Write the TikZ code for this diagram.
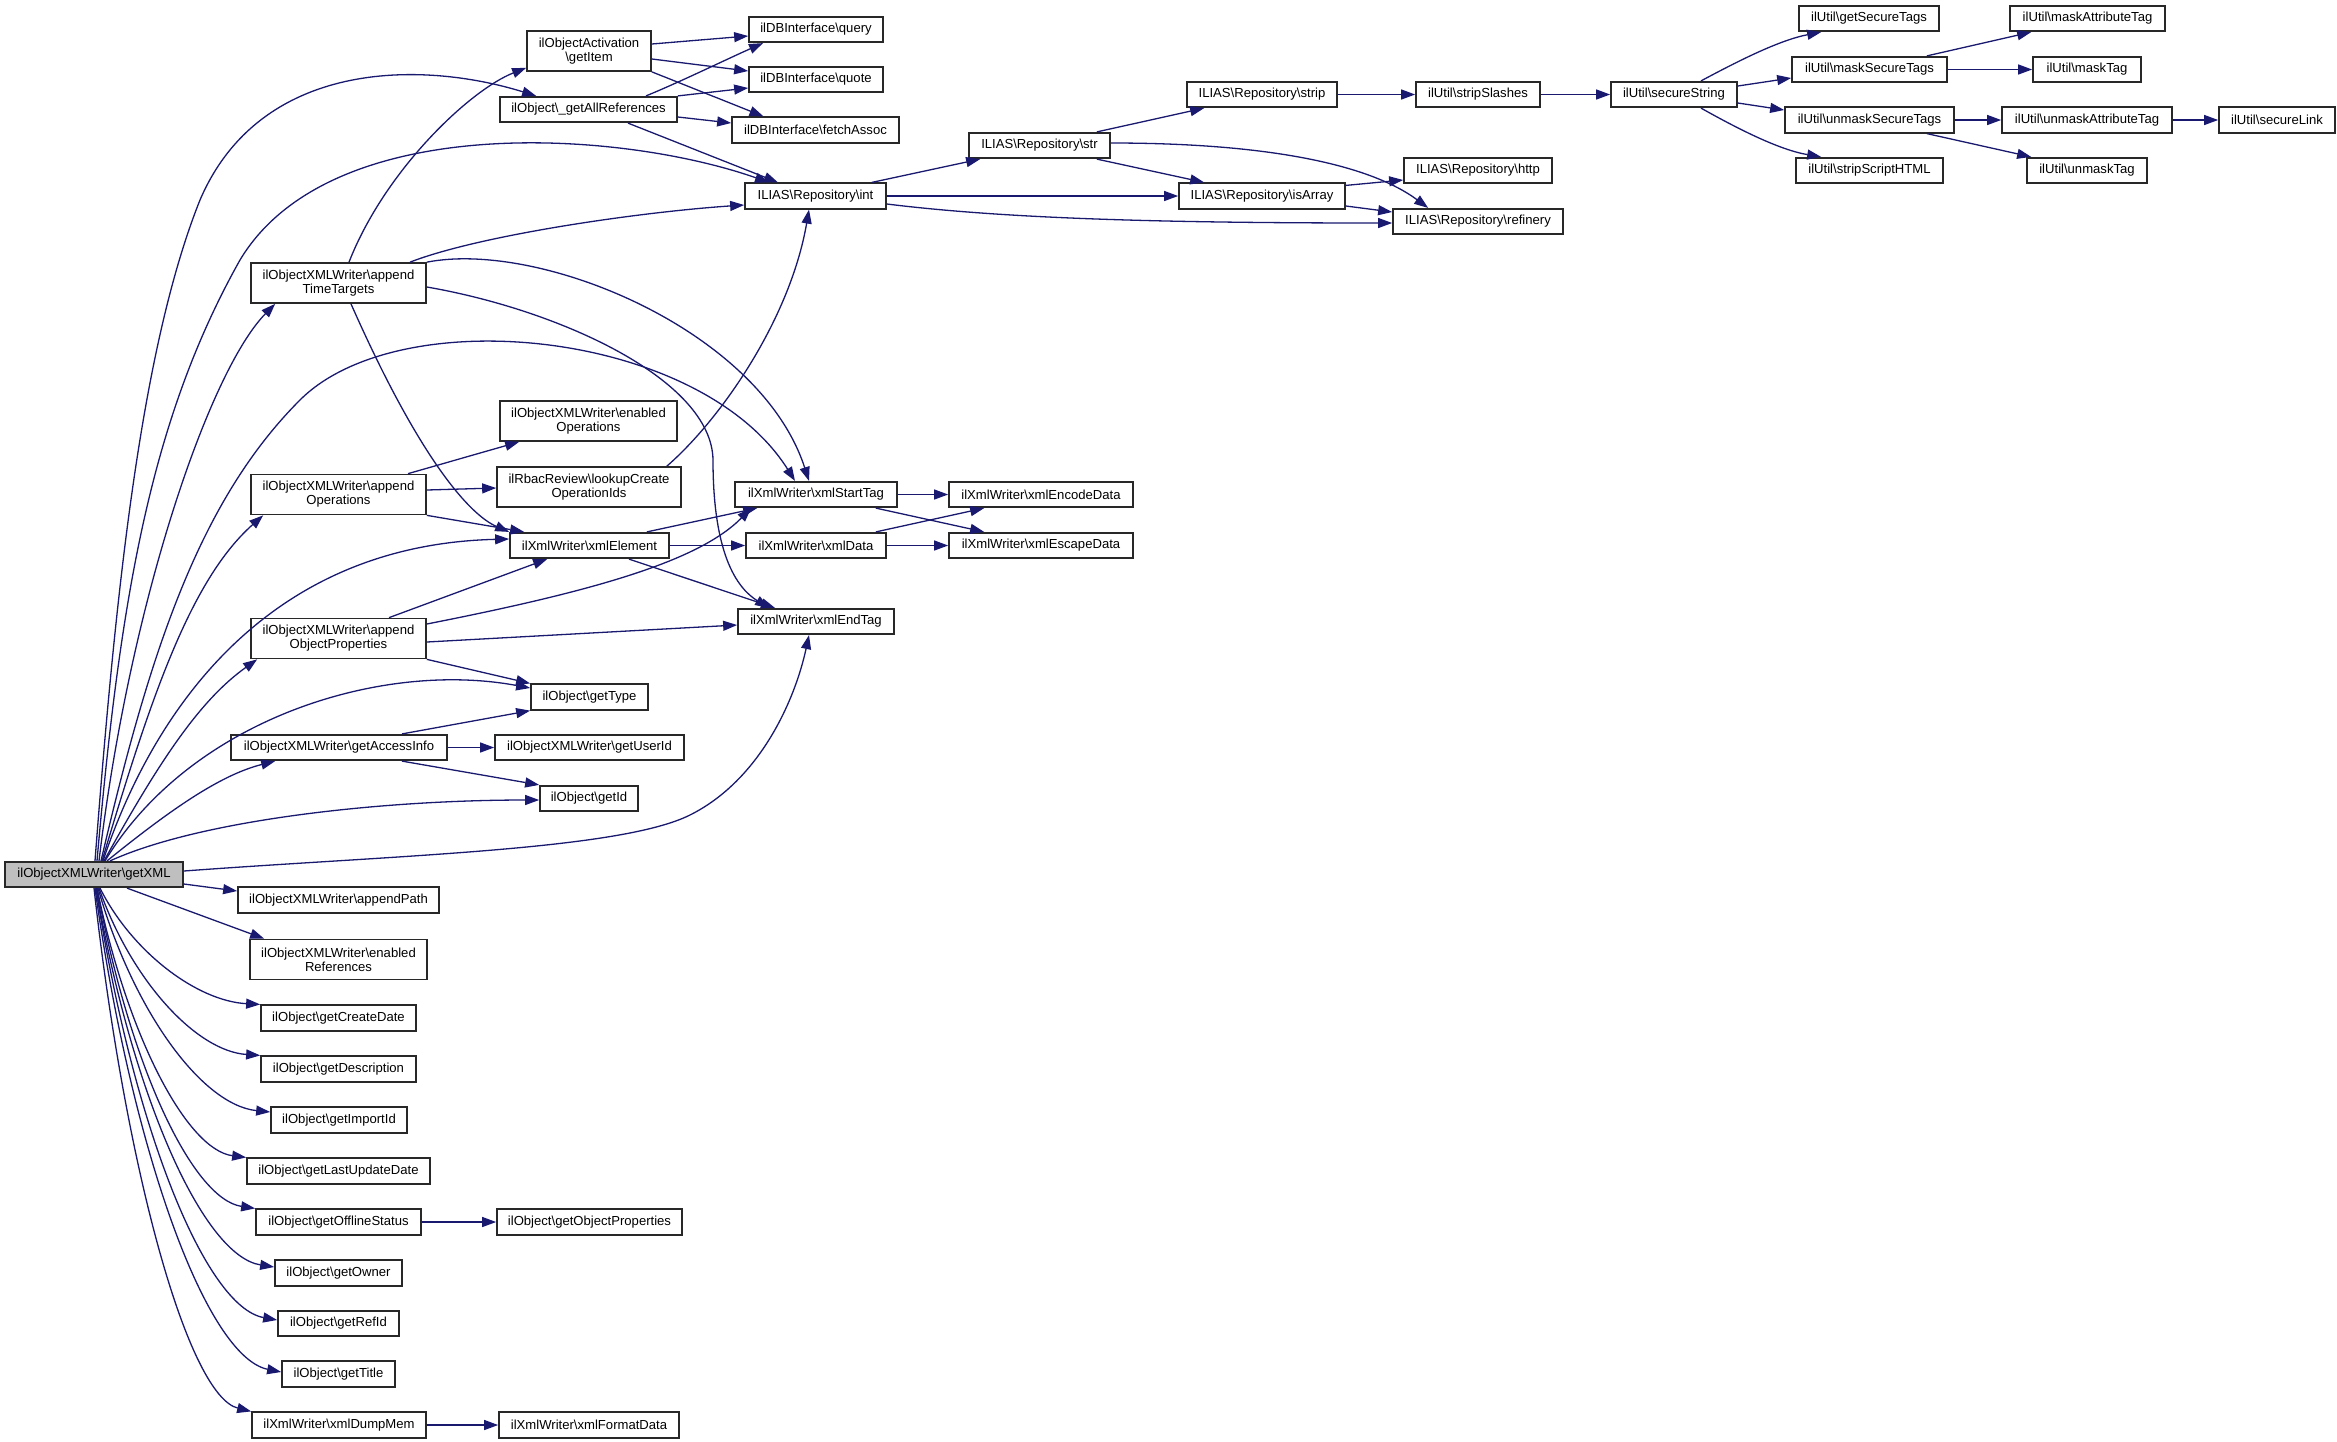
\documentclass[tikz,border=0pt]{standalone}
\usepackage{fontspec}
\setmainfont{Liberation Sans}
\usetikzlibrary{arrows.meta}
\definecolor{edgeblue}{RGB}{25,25,112}
\definecolor{nodeborder}{RGB}{40,40,40}
\definecolor{mainfill}{RGB}{191,191,191}
\newcommand{\bsl}{\textbackslash{}}
\tikzset{
  box/.style={draw=nodeborder, line width=1.7pt, fill=white, inner sep=0pt,
    font=\fontsize{13.1}{14}\selectfont, align=center, minimum height=25.5pt},
  tall/.style={minimum height=40pt},
  edge/.style={draw=edgeblue, line width=1.3pt, -{Triangle[length=14pt,width=10pt]}},
}
\begin{document}
\begin{tikzpicture}[x=1pt,y=-1pt]
\fill[white] (0,0) rectangle (2337,1441);
\useasboundingbox (0,0) rectangle (2337,1441);

% nodes
\node[box, fill=mainfill, minimum width=178pt] (gx) at (94,874.5) {ilObjectXMLWriter\bsl getXML};
\node[box, tall, minimum width=124pt] (getItem) at (589,51) {ilObjectActivation\\\bsl getItem};
\node[box, minimum width=177pt] (gar) at (588.5,109.5) {ilObject\bsl\_getAllReferences};
\node[box, minimum width=134pt] (query) at (816,29.5) {ilDBInterface\bsl query};
\node[box, minimum width=134pt] (quote) at (816,79.5) {ilDBInterface\bsl quote};
\node[box, minimum width=167pt] (fetch) at (815.5,130) {ilDBInterface\bsl fetchAssoc};
\node[box, minimum width=141pt] (int) at (815.5,196) {ILIAS\bsl Repository\bsl int};
\node[box, tall, minimum width=175pt] (att) at (338.5,283) {ilObjectXMLWriter\bsl append\\TimeTargets};
\node[box, tall, minimum width=177pt] (enop) at (588.5,421) {ilObjectXMLWriter\bsl enabled\\Operations};
\node[box, tall, minimum width=175pt] (aops) at (338.5,494.5) {ilObjectXMLWriter\bsl append\\Operations};
\node[box, tall, minimum width=184pt] (lcoi) at (589,487) {ilRbacReview\bsl lookupCreate\\OperationIds};
\node[box, minimum width=162pt] (xst) at (816,494.5) {ilXmlWriter\bsl xmlStartTag};
\node[box, minimum width=159pt] (xel) at (589.5,545.5) {ilXmlWriter\bsl xmlElement};
\node[box, minimum width=140pt] (xdata) at (816,545.5) {ilXmlWriter\bsl xmlData};
\node[box, tall, minimum width=175pt] (aobj) at (338.5,638.5) {ilObjectXMLWriter\bsl append\\ObjectProperties};
\node[box, minimum width=156pt] (xet) at (816,621.5) {ilXmlWriter\bsl xmlEndTag};
\node[box, minimum width=117pt] (gtype) at (589.5,697) {ilObject\bsl getType};
\node[box, minimum width=216pt] (gai) at (339,747.5) {ilObjectXMLWriter\bsl getAccessInfo};
\node[box, minimum width=189pt] (guid) at (589.5,747.5) {ilObjectXMLWriter\bsl getUserId};
\node[box, minimum width=98pt] (gid) at (589,798.5) {ilObject\bsl getId};
\node[box, minimum width=184pt] (xenc) at (1041,494.5) {ilXmlWriter\bsl xmlEncodeData};
\node[box, minimum width=184pt] (xesc) at (1041,545.5) {ilXmlWriter\bsl xmlEscapeData};
\node[box, minimum width=141pt] (str) at (1039.5,145.5) {ILIAS\bsl Repository\bsl str};
\node[box, minimum width=150pt] (strip) at (1262,94.5) {ILIAS\bsl Repository\bsl strip};
\node[box, minimum width=166pt] (isarr) at (1262,196) {ILIAS\bsl Repository\bsl isArray};
\node[box, minimum width=148pt] (http) at (1478,170.5) {ILIAS\bsl Repository\bsl http};
\node[box, minimum width=170pt] (refin) at (1478,221.5) {ILIAS\bsl Repository\bsl refinery};
\node[box, minimum width=124pt] (sslash) at (1478,94.5) {ilUtil\bsl stripSlashes};
\node[box, minimum width=126pt] (sstr) at (1674,94.5) {ilUtil\bsl secureString};
\node[box, minimum width=140pt] (gst) at (1869,18.5) {ilUtil\bsl getSecureTags};
\node[box, minimum width=155pt] (mst) at (1869.5,69.5) {ilUtil\bsl maskSecureTags};
\node[box, minimum width=169pt] (ust) at (1869.5,120) {ilUtil\bsl unmaskSecureTags};
\node[box, minimum width=147pt] (ssh) at (1869.5,170.5) {ilUtil\bsl stripScriptHTML};
\node[box, minimum width=155pt] (mat) at (2087.5,18.5) {ilUtil\bsl maskAttributeTag};
\node[box, minimum width=108pt] (mtag) at (2087,69.5) {ilUtil\bsl maskTag};
\node[box, minimum width=170pt] (uat) at (2087,120) {ilUtil\bsl unmaskAttributeTag};
\node[box, minimum width=120pt] (utag) at (2087,170.5) {ilUtil\bsl unmaskTag};
\node[box, minimum width=116pt] (slink) at (2277,120) {ilUtil\bsl secureLink};
\node[box, minimum width=201pt] (apath) at (338.5,900) {ilObjectXMLWriter\bsl appendPath};
\node[box, tall, minimum width=177pt] (enref) at (338.5,959.5) {ilObjectXMLWriter\bsl enabled\\References};
\node[box, minimum width=155pt] (gcd) at (338.5,1018) {ilObject\bsl getCreateDate};
\node[box, minimum width=155pt] (gdesc) at (338.5,1069) {ilObject\bsl getDescription};
\node[box, minimum width=136pt] (gimp) at (339,1120) {ilObject\bsl getImportId};
\node[box, minimum width=183pt] (glud) at (338.5,1171) {ilObject\bsl getLastUpdateDate};
\node[box, minimum width=165pt] (goff) at (338.5,1222) {ilObject\bsl getOfflineStatus};
\node[box, minimum width=185pt] (gop) at (589.5,1222) {ilObject\bsl getObjectProperties};
\node[box, minimum width=127pt] (gown) at (338.5,1273) {ilObject\bsl getOwner};
\node[box, minimum width=121pt] (gref) at (338.5,1323.5) {ilObject\bsl getRefId};
\node[box, minimum width=113pt] (gtit) at (338.5,1374) {ilObject\bsl getTitle};
\node[box, minimum width=174pt] (xdm) at (339,1425) {ilXmlWriter\bsl xmlDumpMem};
\node[box, minimum width=180pt] (xfd) at (589,1425) {ilXmlWriter\bsl xmlFormatData};

% edges: getItem / getAllReferences
\draw[edge] ([yshift=7pt]getItem.east) -- ([yshift=-6.5pt]query.west);
\draw[edge] ([yshift=-8pt]getItem.east) -- ([yshift=8.5pt]quote.west);
\draw[edge] (getItem.south east) -- ([xshift=-52pt]fetch.north);
\draw[edge] ([xshift=57.5pt]gar.north) .. controls (680,82) and (725,60) .. ([xshift=-53pt]query.south);
\draw[edge] (gar.north east) -- ([yshift=-8.5pt]quote.west);
\draw[edge] ([yshift=-7.5pt]gar.east) -- ([yshift=7pt]fetch.west);
\draw[edge] ([xshift=39.5pt]gar.south) -- ([xshift=-37.5pt]int.north);

% appendTimeTargets
\draw[edge] ([xshift=71.5pt]att.north) .. controls (480,235) and (640,212) .. ([yshift=-9pt]int.west);
\draw[edge] ([xshift=10.5pt]att.north) .. controls (385,170) and (470,90) .. ([yshift=4pt]getItem.south west);
\draw[edge] (att.north east) .. controls (540,240) and (760,330) .. ([xshift=-7pt]xst.north);
\draw[edge] ([yshift=-4pt]att.east) .. controls (560,310) and (712,380) .. (713,460) .. controls (713,560) and (740,590) .. ([xshift=-47pt]xet.north);
\draw[edge] ([xshift=12.5pt]att.south) .. controls (420,460) and (470,515) .. (xel.north west);

% getXML upward
\draw[edge] ([xshift=1pt]gx.north) .. controls (115,600) and (140,350) .. (200,200) .. controls (260,60) and (420,60) .. ([xshift=37pt]gar.north west);
\draw[edge] ([xshift=3pt]gx.north) .. controls (120,600) and (150,420) .. (240,260) .. controls (330,110) and (620,130) .. ([xshift=-46.5pt]int.north);
\draw[edge] ([xshift=5pt]gx.north) .. controls (130,600) and (210,370) .. ([xshift=25pt]att.south west);
\draw[edge] ([xshift=7pt]gx.north) .. controls (150,650) and (200,500) .. (300,400) .. controls (400,300) and (700,330) .. ([xshift=-21pt]xst.north);
\draw[edge] ([xshift=8pt]gx.north) .. controls (150,700) and (190,580) .. ([xshift=13pt]aops.south west);
\draw[edge] ([xshift=9pt]gx.north) .. controls (150,720) and (260,545) .. ([yshift=6.5pt]xel.west);
\draw[edge] ([xshift=10pt]gx.north) .. controls (160,760) and (200,700) .. ([xshift=7pt]aobj.south west);
\draw[edge] ([xshift=11pt]gx.north) .. controls (190,720) and (380,660) .. ([yshift=9pt]gtype.west);
\draw[edge] ([xshift=13pt]gx.north) .. controls (170,810) and (220,775) .. ([xshift=45pt]gai.south west);
\draw[edge] ([xshift=16pt]gx.north) .. controls (200,820) and (380,800) .. ([yshift=-1.5pt]gid.west);
\draw[edge] ([yshift=3.5pt]gx.east) .. controls (400,855) and (620,850) .. (690,815) .. controls (760,780) and (795,700) .. ([xshift=-7pt]xet.south);

% getXML downward
\draw[edge] ([yshift=-9.5pt]gx.east) -- ([yshift=9pt]apath.west);
\draw[edge] ([xshift=33pt]gx.south) -- ([xshift=15pt]enref.north west);
\draw[edge] ([xshift=6pt]gx.south) .. controls (132,952) and (197,1001) .. (gcd.north west);
\draw[edge] ([xshift=5pt]gx.south) .. controls (131,980) and (196,1051) .. (gdesc.north west);
\draw[edge] ([xshift=4pt]gx.south) .. controls (133,1011) and (202,1105) .. ([yshift=8pt]gimp.west);
\draw[edge] ([xshift=3pt]gx.south) .. controls (127,1036) and (187,1150) .. (glud.north west);
\draw[edge] ([xshift=3pt]gx.south) .. controls (129,1064) and (192,1199) .. (goff.north west);
\draw[edge] ([xshift=2pt]gx.south) .. controls (132,1096) and (203,1256) .. ([yshift=6pt]gown.west);
\draw[edge] ([xshift=2pt]gx.south) .. controls (132,1125) and (205,1307) .. ([yshift=3.5pt]gref.west);
\draw[edge] ([xshift=1pt]gx.south) .. controls (132,1154) and (207,1357) .. ([yshift=2pt]gtit.west);
\draw[edge] ([xshift=0pt]gx.south) .. controls (126,1176) and (189,1396) .. (xdm.north west);

% appendOperations, lookup
\draw[edge] ([xshift=69.5pt]aops.north) -- ([xshift=20pt]enop.south west);
\draw[edge] ([yshift=4.5pt]aops.east) -- ([yshift=-1pt]lcoi.west);
\draw[edge] (aops.south east) -- ([xshift=15pt]xel.north west);
\draw[edge] ([xshift=-15pt]lcoi.north east) .. controls (720,420) and (790,320) .. ([xshift=-6.5pt]int.south);

% xml writer
\draw[edge] ([xshift=-23pt]xel.north east) -- ([xshift=23pt]xst.south west);
\draw[edge] (xel.east) -- (xdata.west);
\draw[edge] ([xshift=39.5pt]xel.south) -- ([xshift=-41pt]xet.north);
\draw[edge] ([xshift=50.5pt]aobj.north) -- ([xshift=38pt]xel.south west);
\draw[edge] ([yshift=14.5pt]aobj.east) .. controls (600,590) and (700,560) .. ([xshift=17pt]xst.south west);
\draw[edge] ([yshift=-3.5pt]aobj.east) -- ([yshift=-3.5pt]xet.west);
\draw[edge] (aobj.south east) -- (gtype.north west);
\draw[edge] ([xshift=63pt]gai.north) -- (gtype.south west);
\draw[edge] (gai.east) -- (guid.west);
\draw[edge] ([xshift=63pt]gai.south) -- (gid.north west);
\draw[edge] (xst.east) -- (xenc.west);
\draw[edge] ([xshift=-22pt]xst.south east) -- ([xshift=36pt]xesc.north west);
\draw[edge] ([xshift=-11pt]xdata.north east) -- ([xshift=36pt]xenc.south west);
\draw[edge] (xdata.east) -- (xesc.west);

% repository
\draw[edge] ([xshift=-15pt]int.north east) -- ([xshift=12pt]str.south west);
\draw[edge] (int.east) -- (isarr.west);
\draw[edge] ([yshift=-8pt]int.east) .. controls (1000,218) and (1150,223) .. ([yshift=-1.5pt]refin.west);
\draw[edge] ([xshift=-14pt]str.north east) -- ([xshift=18pt]strip.south west);
\draw[edge] ([xshift=-14pt]str.south east) -- ([xshift=26pt]isarr.north west);
\draw[edge] ([yshift=2.5pt]str.east) .. controls (1270,143) and (1370,165) .. ([xshift=36pt]refin.north west);
\draw[edge] ([yshift=-3pt]isarr.north east) -- ([yshift=-9.5pt]http.west);
\draw[edge] ([yshift=-10pt]isarr.east) -- ([yshift=9.5pt]refin.west);
\draw[edge] (strip.east) -- (sslash.west);
\draw[edge] (sslash.east) -- (sstr.west);

% ilUtil
\draw[edge] ([xshift=27pt]sstr.north) .. controls (1740,60) and (1780,40) .. ([xshift=23pt]gst.south west);
\draw[edge] ([yshift=8.5pt]sstr.east) -- ([yshift=-8.5pt]mst.west);
\draw[edge] ([yshift=-8.5pt]sstr.east) -- ([yshift=10pt]ust.west);
\draw[edge] ([xshift=27pt]sstr.south) .. controls (1740,130) and (1780,150) .. ([xshift=26pt]ssh.north west);
\draw[edge] ([xshift=-21pt]mst.north east) -- ([xshift=22pt]mat.south west);
\draw[edge] (mst.east) -- (mtag.west);
\draw[edge] (ust.east) -- (uat.west);
\draw[edge] ([xshift=-28pt]ust.south east) -- ([xshift=5pt]utag.north west);
\draw[edge] (uat.east) -- (slink.west);

% bottom chains
\draw[edge] (goff.east) -- (gop.west);
\draw[edge] (xdm.east) -- (xfd.west);
\end{tikzpicture}
\end{document}
